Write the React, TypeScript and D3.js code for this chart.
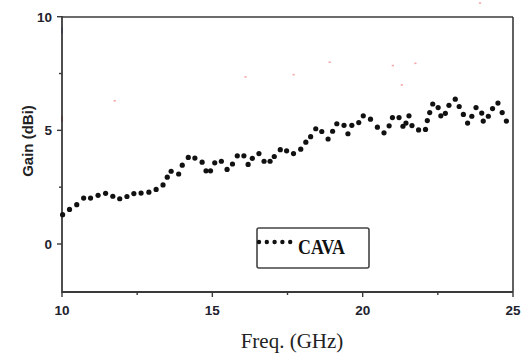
import React from "react";
import * as d3 from "d3";

const freq = [10.02,10.25,10.49,10.72,10.95,11.2,11.45,11.69,11.92,12.16,12.39,12.63,12.89,13.13,13.36,13.5,13.63,13.88,14.0,14.2,14.42,14.66,14.79,14.94,15.08,15.3,15.49,15.67,15.83,16.05,16.19,16.33,16.55,16.72,16.92,17.06,17.26,17.47,17.7,17.94,18.11,18.27,18.44,18.64,18.85,19.0,19.14,19.38,19.51,19.64,19.87,20.02,20.26,20.49,20.71,20.88,20.99,21.21,21.34,21.44,21.54,21.64,21.86,22.09,22.15,22.23,22.33,22.51,22.6,22.75,22.87,23.08,23.21,23.35,23.49,23.63,23.77,23.96,24.01,24.18,24.32,24.5,24.64,24.78];
const gain = [1.29,1.52,1.73,2.02,2.02,2.14,2.23,2.1,1.99,2.09,2.22,2.24,2.28,2.4,2.6,2.94,3.2,3.08,3.47,3.81,3.78,3.6,3.22,3.22,3.57,3.64,3.28,3.52,3.88,3.88,3.5,3.77,3.98,3.64,3.64,3.85,4.15,4.1,3.98,4.17,4.48,4.72,5.07,4.95,4.62,4.96,5.29,5.22,4.85,5.22,5.34,5.64,5.49,5.14,4.89,5.2,5.56,5.56,5.18,5.32,5.64,5.21,5.02,5.04,5.43,5.78,6.16,6.0,5.64,5.75,6.1,6.37,6.05,5.7,5.32,5.62,6.0,5.76,5.41,5.62,5.96,6.2,5.78,5.41];

const xMajorTicks = [10, 15, 20, 25];
const xMinorTicks = [12.5, 17.5, 22.5];
const yMajorTicks = [0, 5, 10];
const yMinorTicks = [2.5, 7.5];
const seriesName = "CAVA";
const xTitle = "Freq. (GHz)";
const yTitle = "Gain (dBi)";

// small stray colored specks visible in the scanned figure (data units)
const specksX = [11.75, 16.1, 17.7, 18.9, 21.0, 21.75, 21.3, 23.9];
const specksY = [6.3, 7.35, 7.45, 8.0, 7.85, 7.95, 7.0, 10.6];

export default function App() {
  const left = 62, right = 513, top = 17, bottom = 292;
  const x = d3.scaleLinear().domain([10, 25]).range([left, right]);
  const y = d3.scaleLinear().domain([0, 10]).range([244, 16.7]);
  const axisColor = "#3a3a3a";
  const labelColor = "#22222e";

  const legendDots = d3.range(5).map((i) => 259 + i * 7.8);

  return (
    <svg width={525} height={355} style={{ position: "absolute", left: 0, top: 0, background: "#fff" }}>
      <rect x={0} y={0} width={525} height={355} fill="#fff" />
      {/* specks */}
      {specksX.map((sx, i) => (
        <rect key={"s" + i} x={x(sx) - 1} y={y(specksY[i]) - 0.8} width={2.2} height={1.6} fill="#f07070" opacity={0.6} />
      ))}
      <rect x={x(10) - 1} y={y(5.5) - 3} width={2} height={6} fill="#e03030" opacity={0.8} />
      <rect x={x(10) - 1} y={y(9.4) - 3} width={2} height={6} fill="#3050e0" opacity={0.8} />

      {/* frame */}
      <line x1={left} x2={right} y1={top} y2={top} stroke={axisColor} strokeWidth={1.6} />
      <line x1={right} x2={right} y1={top} y2={bottom} stroke={axisColor} strokeWidth={1.6} />
      <line x1={left} x2={right} y1={bottom} y2={bottom} stroke={axisColor} strokeWidth={1.8} />
      <line x1={left} x2={left} y1={top - 1} y2={bottom + 1} stroke={axisColor} strokeWidth={1.8} />

      {/* y ticks */}
      {yMajorTicks.map((t) => (
        <g key={"ym" + t}>
          <line x1={left - 5} x2={left} y1={y(t)} y2={y(t)} stroke={axisColor} strokeWidth={1.4} />
          <text x={52} y={y(t)} dy="0.36em" textAnchor="end" fontFamily="Liberation Sans, Arial, sans-serif" fontWeight="bold" fontSize={13.5} fill={labelColor}>{t}</text>
        </g>
      ))}
      {yMinorTicks.map((t) => (
        <line key={"yn" + t} x1={left - 3} x2={left} y1={y(t)} y2={y(t)} stroke={axisColor} strokeWidth={1.4} />
      ))}

      {/* x ticks */}
      {xMajorTicks.map((t) => (
        <g key={"xm" + t}>
          <line x1={x(t)} x2={x(t)} y1={bottom} y2={bottom + 5} stroke={axisColor} strokeWidth={1.4} />
          <text x={x(t)} y={310} dy="0.36em" textAnchor="middle" fontFamily="Liberation Sans, Arial, sans-serif" fontWeight="bold" fontSize={13.5} fill={labelColor}>{t}</text>
        </g>
      ))}
      {xMinorTicks.map((t) => (
        <line key={"xn" + t} x1={x(t)} x2={x(t)} y1={bottom} y2={bottom + 3} stroke={axisColor} strokeWidth={1.4} />
      ))}

      {/* axis titles */}
      <text x={292} y={348} textAnchor="middle" fontFamily="Liberation Serif, 'Times New Roman', serif" fontSize={21} fill="#222">{xTitle}</text>
      <text transform="translate(33,141) rotate(-90)" textAnchor="middle" fontFamily="Liberation Sans, Arial, sans-serif" fontWeight="bold" fontSize={15} fill="#222">{yTitle}</text>

      {/* data */}
      {freq.map((f, i) => (
        <circle key={"p" + i} cx={x(f)} cy={y(gain[i])} r={2.6} fill="#111" />
      ))}

      {/* legend */}
      <rect x={257} y={228} width={112} height={40} rx={2} fill="#fff" stroke="#444" strokeWidth={1.6} />
      {legendDots.map((lx, i) => (
        <circle key={"l" + i} cx={lx} cy={242} r={2.2} fill="#111" />
      ))}
      <text x={298} y={254} fontFamily="Liberation Serif, 'Times New Roman', serif" fontWeight="bold" fontSize={20} textLength={47} lengthAdjust="spacingAndGlyphs" fill="#111">{seriesName}</text>
    </svg>
  );
}
